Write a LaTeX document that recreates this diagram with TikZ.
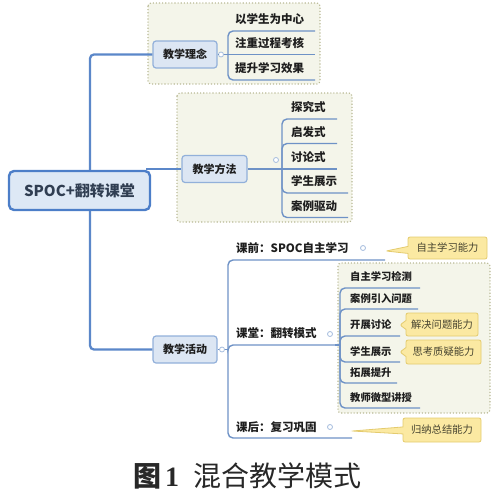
\documentclass[tikz,border=0pt]{standalone}
\usepackage{fontspec}
\usetikzlibrary{shapes.callouts}
\newfontfamily\cjk{Noto Sans CJK SC}
\newfontfamily\capnum{Liberation Serif}
\definecolor{trunk}{HTML}{5B87C9}
\definecolor{ulc}{HTML}{6E92C6}
\definecolor{grpb}{HTML}{B8B894}
\definecolor{grpf}{HTML}{F4F5EA}
\definecolor{topb}{HTML}{92B0DA}
\definecolor{topf}{HTML}{DCE6F3}
\definecolor{rootb}{HTML}{4C7EC8}
\definecolor{rootf}{HTML}{DDE8F5}
\definecolor{knobc}{HTML}{A4BCDD}
\definecolor{notef}{HTML}{FBE9A2}
\definecolor{noteb}{HTML}{E4CB6E}
\definecolor{txt}{HTML}{1E1E1E}
\definecolor{notetxt}{HTML}{46432F}
\begin{document}
\begin{tikzpicture}[x=1pt,y=-1pt,
  conn/.style={draw=trunk, line width=2.3pt},
  ul/.style={draw=ulc, line width=1.4pt, rounded corners=5pt},
  grp/.style={draw=grpb, fill=grpf, dotted, line width=1.1pt, rounded corners=3pt},
  topic/.style={draw=topb, fill=topf, line width=1.2pt, rounded corners=3pt, minimum height=27pt, inner sep=0pt, font=\cjk\bfseries\fontsize{11}{13}\selectfont, text=txt},
  item/.style={anchor=west, inner sep=0pt, font=\cjk\bfseries\fontsize{11.5}{13}\selectfont, text=txt},
  sitem/.style={anchor=west, inner sep=0pt, font=\cjk\bfseries\fontsize{10.3}{12}\selectfont, text=txt},
  knob/.style={circle, draw=knobc, fill=white, line width=0.8pt, minimum size=5pt, inner sep=0pt},
  note/.style={rectangle callout, draw=noteb, fill=notef, line width=0.8pt, rounded corners=2pt, inner sep=0pt, font=\cjk\fontsize{10.3}{12}\selectfont, text=notetxt}
]
\useasboundingbox (0,0) rectangle (500,498);
% group backgrounds
\draw[grp] (148,3) rectangle (320,84);
\draw[grp] (177,93) rectangle (352,222);
\draw[grp] (338,263) rectangle (490,413);

% root and topics
\node[draw=rootb, fill=rootf, line width=2.4pt, rounded corners=5pt, minimum width=141pt, minimum height=39pt, inner sep=0pt, font=\cjk\bfseries\fontsize{15}{17}\selectfont, text={rgb,255:red,48;green,62;blue,82}] (root) at (79.5,190.5) {SPOC+翻转课堂};
\node[topic, minimum width=64pt] (L1) at (185,54.5) {教学理念};
\node[topic, minimum width=65pt] (L2) at (214.5,169) {教学方法};
\node[topic, minimum width=64pt] (L3) at (185,349.5) {教学活动};

\coordinate (tk) at (90,190);
\coordinate (rj) at (146,169);
\draw[conn, rounded corners=4pt] (root.north -| tk) |- (L1.west);
\draw[conn, rounded corners=4pt] (root.south -| tk) |- (L3.west);
\draw[conn] (rj) -- (L2.west);

% group 1
\node[knob] (k1) at (221,54.5) {};
\coordinate (s1) at (228,54.5);
\draw[ul] (L1.east) -- (k1.west);
\draw[ul] (k1.east) -- (s1);
\node[item] (a1) at (235,19) {以学生为中心};
\node[item] (a2) at (235,43.5) {注重过程考核};
\node[item] (a3) at (235,68) {提升学习效果};
\coordinate (a1e) at (315,31);
\coordinate (a2e) at (315,54.5);
\coordinate (a3e) at (315,80);
\draw[ul] (s1) |- (a1e);
\draw[ul] (s1) -- (a2e);
\draw[ul] (s1) |- (a3e);

% group 2
\node[knob] (k2) at (276,160) {};
\coordinate (s2) at (282,169);
\draw[ul] (L2.east) -- (s2);
\node[item] (b1) at (291,107) {探究式};
\node[item] (b2) at (291,132) {启发式};
\node[item] (b3) at (291,157) {讨论式};
\node[item] (b4) at (291,181.5) {学生展示};
\node[item] (b5) at (291,206) {案例驱动};
\coordinate (b1e) at (337,119);
\coordinate (b2e) at (337,143.5);
\coordinate (b3e) at (337,169);
\coordinate (b4e) at (348,193);
\coordinate (b5e) at (348,217.5);
\draw[ul] (s2) |- (b1e);
\draw[ul] (s2) |- (b2e);
\draw[ul] (s2) -- (b3e);
\draw[ul] (s2) |- (b4e);
\draw[ul] (s2) |- (b5e);

% group 3
\node[knob] (k3) at (222,349.5) {};
\coordinate (s3) at (228,349.5);
\draw[ul] (L3.east) -- (k3.west);
\draw[ul] (k3.east) -- (s3);
\node[item] (c1) at (236,248) {课前：SPOC自主学习};
\node[item] (c2) at (236,333.5) {课堂：翻转模式};
\node[item] (c3) at (236,427) {课后：复习巩固};
\coordinate (c1e) at (385,260);
\coordinate (c2e) at (335,345);
\coordinate (c3e) at (352,438);
\draw[ul] (s3) |- (c1e);
\draw[ul] (s3) |- (c2e);
\draw[ul] (s3) |- (c3e);
\node[knob] (kc1) at (363,248) {};
\node[knob] (kc2) at (330,334) {};
\node[knob] (kc3) at (330,427) {};

% sub group
\coordinate (s4) at (340,345);
\draw[ul] (c2e) -- (s4);
\node[sitem] (d1) at (350,277) {自主学习检测};
\node[sitem] (d2) at (350,298.5) {案例引入问题};
\node[sitem] (d3) at (350,325) {开展讨论};
\node[sitem] (d4) at (350,351.5) {学生展示};
\node[sitem] (d5) at (350,373) {拓展提升};
\node[sitem] (d6) at (350,397.5) {教师微型讲授};
\coordinate (d1e) at (420,288);
\coordinate (d2e) at (418,309);
\coordinate (d3e) at (400,336);
\coordinate (d4e) at (400,362);
\coordinate (d5e) at (397,383);
\coordinate (d6e) at (420,408);
\draw[ul] (s4) |- (d1e);
\draw[ul] (s4) |- (d2e);
\draw[ul] (s4) |- (d3e);
\draw[ul] (s4) |- (d4e);
\draw[ul] (s4) |- (d5e);
\draw[ul] (s4) |- (d6e);

% callouts
\coordinate (p1) at (386,251);
\coordinate (p2) at (400,325);
\coordinate (p3) at (400,352);
\coordinate (p4) at (352,431);
\node[note, minimum width=79pt, minimum height=22pt, callout absolute pointer={(p1)}, callout pointer width=7pt] (n1) at (447.5,248) {自主学习能力};
\node[note, minimum width=72pt, minimum height=23pt, callout absolute pointer={(p2)}, callout pointer width=9pt] (n2) at (442,324.5) {解决问题能力};
\node[note, minimum width=75pt, minimum height=24pt, callout absolute pointer={(p3)}, callout pointer width=9pt] (n3) at (443.5,352) {思考质疑能力};
\node[note, minimum width=78pt, minimum height=24pt, callout absolute pointer={(p4)}, callout pointer width=7pt] (n4) at (442,430) {归纳总结能力};

% caption
\node[inner sep=0pt, text={rgb,255:red,40;green,40;blue,40}] (cap) at (247,476) {\fontsize{28}{30}\selectfont{\cjk\bfseries 图}\hspace{4pt}{\capnum\bfseries 1}\hspace{14pt}{\cjk 混合教学模式}};
\end{tikzpicture}
\end{document}
